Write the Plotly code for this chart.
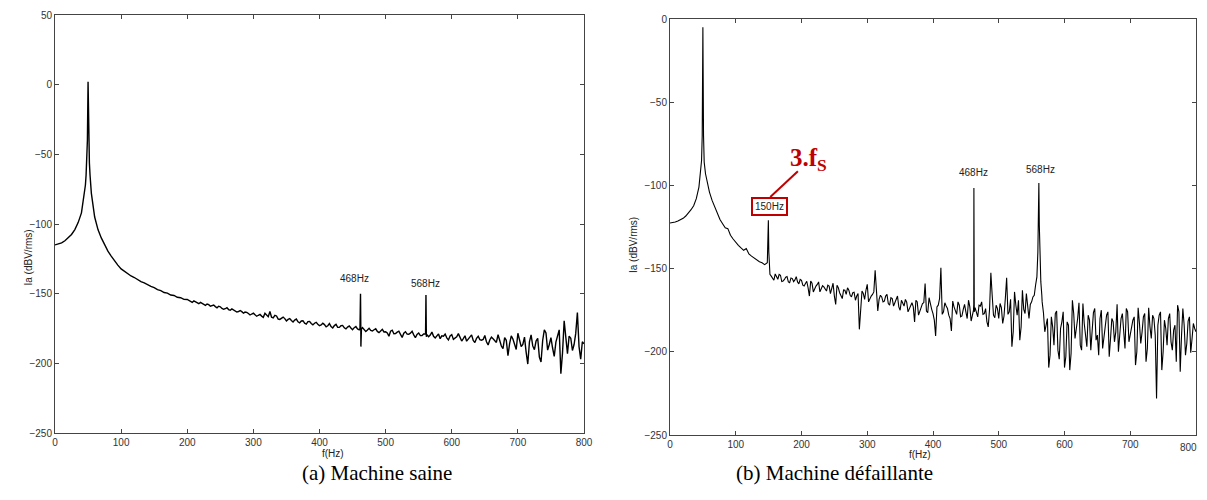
import numpy as np
import plotly.graph_objects as go

# page is 1207x500; the browser body adds an 8 px margin, so the figure is
# sized and positioned to compensate
PAGE_OFF = 8
W, H = 1199, 492

# ---------------- (a) Machine saine ----------------
FREQ_A_STEP = 5
VALUES_A = [
    -115.0, -114.5, -113.5, -112.0, -110.0, -107.5, -104.0, -99.0, -92.0, -77.0,   # 0..45
    2.0, -78.0, -95.0, -104.0, -110.0, -115.0, -119.5, -123.0, -126.5, -129.5,     # 50..95
    -132.2, -134.0, -135.6, -137.3, -138.4, -139.9, -141.3, -142.2, -143.6, -144.8,  # 100..145
    -145.6, -147.1, -147.8, -149.2, -149.6, -151.0, -151.3, -152.6, -152.9, -154.1,  # 150..195
    -154.2, -155.6, -155.2, -156.9, -156.3, -157.8, -157.4, -159.0, -158.2, -160.1,  # 200..245
    -159.4, -161.2, -160.0, -161.9, -161.5, -163.2, -162.1, -164.0, -163.4, -165.3,  # 250..295
    -164.0, -166.2, -164.9, -167.0, -165.5, -162.8, -167.4, -166.0, -168.5, -166.8,  # 300..345
    -169.6, -167.9, -170.3, -168.2, -171.0, -169.4, -171.8, -169.9, -172.4, -170.6,  # 350..395
    -173.0, -171.2, -173.8, -171.5, -174.6, -172.0, -174.2, -172.8, -175.3, -173.1,  # 400..445
    -175.9, -173.6, -176.0, -174.4, -177.2, -174.9, -176.8, -175.2, -178.0, -175.6,  # 450..495
    -177.4, -180.5, -176.2, -178.6, -176.9, -181.4, -177.3, -179.1, -177.0, -181.6,  # 500..545
    -178.2, -180.0, -178.5, -180.9, -177.6, -181.8, -178.9, -180.3, -179.0, -183.2,  # 550..595
    -179.4, -181.8, -178.7, -184.0, -180.2, -182.5, -179.6, -185.1, -180.6, -183.4,  # 600..645
    -180.0, -186.8, -181.2, -184.0, -179.5, -187.6, -181.5, -194.5, -180.3, -186.2,  # 650..695
    -178.4, -188.0, -181.2, -200.5, -179.6, -190.2, -182.0, -199.0, -176.0, -190.5,  # 700..745
    -181.5, -195.0, -180.2, -207.5, -169.5, -193.0, -182.0, -186.5, -163.5, -197.0,  # 750..795
    -186.0,                                                                           # 800
]
MID_A_START, MID_A_STEP = 202.5, 5
MID_A = [
    -155.0, -156.3, -155.9, -157.2, -157.0, -158.4, -157.9, -158.6, -159.3, -159.0,
    -160.6, -160.8, -161.4, -160.9, -162.4, -162.8, -162.9, -163.2, -164.2, -164.6,
    -165.2, -165.5, -166.1, -164.0, -166.5, -166.9, -165.5, -168.2, -167.8, -167.9,
    -168.5, -169.3, -169.0, -170.2, -169.6, -171.2, -170.1, -171.4, -171.2, -171.9,
    -172.5, -172.2, -173.0, -173.6, -172.9, -174.1, -173.0, -174.5, -174.0, -174.6,
    -174.4, -175.3, -176.2, -175.8, -176.1, -176.4, -175.9, -177.1, -176.8, -177.5,
    -178.2, -177.0, -178.8, -177.6, -179.2, -178.4, -179.0, -178.3, -179.6, -179.2,
    -180.1, -178.9, -179.4, -179.7, -180.6, -180.2, -182.3, -180.5, -181.7, -180.4,
    -182.8, -180.9, -181.6, -182.2, -184.1, -181.3, -183.5, -182.0, -183.0, -182.9,
    -184.5, -183.2, -182.4, -185.0, -183.8, -189.5, -183.5, -185.8, -182.6, -190.1,
    -183.0, -186.4, -192.0, -184.5, -187.5, -184.0, -195.5, -183.6, -178.2, -186.5,
    -189.0, -184.8, -176.0, -192.5, -183.5, -180.5, -190.8, -178.5, -188.0, -184.5,
]
EXTRA_A_F = [46, 47, 48, 49, 51, 52, 53, 54, 461.2, 462.0, 462.6, 463.4, 560.4, 561.0, 561.6]
EXTRA_A_V = [-72, -65, -56, -40, -40, -56, -65, -72, -175.0, -150.0, -188.0, -175.5, -179.0, -151.0, -181.0]

# ---------------- (b) Machine défaillante ----------------
FREQ_B_STEP = 4
VALUES_B = [
    -122.6, -122.4, -122.0, -121.4, -120.6, -119.8, -118.4, -116.8, -114.6, -112.2,  # 0..36
    -108.0, -101.0, -85.0, -86.0, -97.5, -104.0, -109.0, -113.0, -117.0, -120.5,     # 40..76
    -123.0, -125.5, -126.0, -130.0, -132.2, -134.3, -136.0, -137.6, -139.0, -138.0,  # 80..116
    -141.2, -142.5, -143.8, -144.6, -145.9, -146.5, -147.6, -146.5, -153.5, -155.8,  # 120..156
    -153.2, -156.4, -154.0, -157.5, -155.2, -158.0, -155.6, -157.8, -154.8, -159.2,  # 160..196
    -157.0, -160.5, -157.6, -166.5, -158.8, -162.0, -159.5, -164.0, -160.3, -162.5,  # 200..236
    -160.0, -165.0, -158.8, -171.5, -161.5, -166.0, -162.8, -165.5, -163.0, -167.0,  # 240..276
    -164.2, -166.5, -186.5, -163.5, -168.5, -159.5, -168.0, -165.5, -151.0, -175.5,  # 280..316
    -166.0, -170.0, -166.5, -171.0, -167.5, -172.5, -168.0, -173.0, -169.0, -172.5,  # 320..356
    -170.2, -174.0, -170.5, -182.0, -170.0, -176.0, -171.0, -159.0, -176.5, -171.5,  # 360..396
    -177.0, -190.5, -172.0, -149.5, -176.0, -172.5, -178.0, -187.5, -173.0, -177.5,  # 400..436
    -172.0, -178.5, -171.5, -180.0, -173.0, -178.0, -173.5, -179.0, -172.5, -177.5,  # 440..476
    -174.0, -185.0, -152.5, -178.0, -172.0, -180.0, -173.5, -178.5, -155.5, -176.0,  # 480..516
    -197.0, -164.0, -178.0, -193.0, -163.0, -177.0, -172.0, -171.5, -167.0, -160.0,  # 520..556
    -132.0, -158.0, -176.5, -184.0, -209.5, -179.0, -196.0, -175.5, -204.5, -182.0,  # 560..596
    -209.5, -182.0, -211.0, -169.0, -192.0, -180.0, -196.0, -171.0, -190.0, -178.0,  # 600..636
    -199.0, -176.5, -193.0, -202.0, -175.0, -190.5, -178.0, -203.0, -180.0, -194.0,  # 640..676
    -171.5, -190.0, -177.0, -198.0, -176.0, -189.5, -181.0, -208.0, -173.5, -195.0,  # 680..716
    -179.0, -206.0, -173.5, -192.0, -180.0, -228.0, -178.0, -211.0, -181.0, -196.0,  # 720..756
    -177.0, -199.0, -184.0, -172.0, -212.0, -174.0, -202.0, -181.5, -200.5, -183.0,  # 760..796
    -188.0,                                                                           # 800
]
MID_B_START, MID_B_STEP = 154, 4
MID_B = [
    -154.5, -157.0, -155.0, -153.5, -157.8, -156.5, -154.8, -158.5, -156.0, -156.8,  # 154..190
    -158.0, -156.5, -160.0, -159.0, -161.5, -157.5, -164.0, -160.5, -158.0, -162.5,  # 194..230
    -161.0, -163.5, -160.5, -162.0, -166.5, -160.0, -164.5, -168.0, -163.0, -161.5,  # 234..270
    -166.0, -164.5, -169.0, -165.0, -175.0, -165.0, -163.0, -170.0, -166.5, -164.0,  # 274..310
    -164.0, -168.5, -167.0, -169.5, -165.5, -172.0, -168.0, -170.5, -166.5, -175.0,  # 314..350
    -171.0, -168.5, -176.0, -171.5, -173.0, -169.0, -178.0, -174.0, -170.5, -175.5,  # 354..390
    -167.5, -174.5, -181.0, -173.0, -168.0, -177.5, -170.5, -174.0, -180.0, -169.5,  # 394..430
    -175.5, -170.0, -179.0, -174.5, -176.0, -169.0, -181.5, -171.5, -176.5, -172.0,  # 434..470
    -170.0, -177.0, -182.0, -174.5, -166.0, -179.5, -174.0, -171.0, -183.0, -168.0,  # 474..510
    -177.5, -168.5, -188.0, -172.0, -169.0, -185.0, -174.5, -165.0, -180.0, -170.0,  # 514..550
    -166.0, -155.0, -130.0, -170.0, -188.0, -180.0, -202.0, -185.0, -177.0, -199.0,  # 554..590
    -186.0, -176.0, -203.0, -184.0, -201.0, -177.0, -186.0, -170.5, -199.0, -183.0,  # 594..630
    -197.0, -181.0, -186.0, -174.0, -190.0, -180.0, -198.0, -184.0, -176.0, -192.0,  # 634..670
    -182.0, -188.0, -200.0, -180.0, -186.0, -174.0, -194.0, -183.0, -179.0, -200.0,  # 674..710
    -183.0, -188.0, -177.0, -198.0, -185.0, -178.0, -190.0, -184.0, -176.0, -200.0,  # 714..750
    -186.0, -180.0, -194.0, -187.0, -206.0, -176.0, -190.0, -184.0, -195.0, -179.0,  # 754..790
    -192.0, -186.0,                                                                   # 794..798
]
EXTRA_B_F = [49, 50, 51, 54, 149.0, 149.6, 150.3, 151.0,
             461.6, 462.2, 462.8, 559.5, 560.3, 561.0, 561.7, 562.5, 565.5]
EXTRA_B_V = [-70.0, -5.0, -70.0, -93.0, -135.0, -121.0, -140.0, -152.0,
             -175.0, -101.6, -176.0, -140.0, -122.0, -98.6, -124.0, -145.0, -166.0]

TICKS_X = [0, 100, 200, 300, 400, 500, 600, 700, 800]
TICKS_YA = [-250, -200, -150, -100, -50, 0, 50]
TICKS_YB = [-250, -200, -150, -100, -50, 0]


def merge(step, values, mstart, mstep, mids, ef, ev):
    f = list(np.arange(len(values)) * step)
    fm = list(mstart + np.arange(len(mids)) * mstep)
    pts = list(zip(f, values)) + list(zip(fm, mids)) + list(zip(ef, ev))
    pts.sort(key=lambda p: p[0])
    return [float(p[0]) for p in pts], [p[1] for p in pts]


fa, va = merge(FREQ_A_STEP, VALUES_A, MID_A_START, MID_A_STEP, MID_A, EXTRA_A_F, EXTRA_A_V)
fb, vb = merge(FREQ_B_STEP, VALUES_B, MID_B_START, MID_B_STEP, MID_B, EXTRA_B_F, EXTRA_B_V)


def px(x):  # page pixel x -> paper
    return (x - PAGE_OFF) / W


def py(y):  # page pixel y -> paper
    return 1 - (y - PAGE_OFF) / H


fig = go.Figure()
fig.add_trace(go.Scatter(x=fa, y=va, mode="lines", line=dict(color="black", width=1.4),
                         xaxis="x", yaxis="y", showlegend=False, hoverinfo="skip"))
fig.add_trace(go.Scatter(x=fb, y=vb, mode="lines", line=dict(color="black", width=1.1),
                         xaxis="x2", yaxis="y2", showlegend=False, hoverinfo="skip"))

tickfont = dict(family="Liberation Sans, Arial, sans-serif", size=10, color="#333")
axcommon = dict(showline=True, linecolor="#444", linewidth=1, mirror="ticks",
                ticks="inside", ticklen=4, tickcolor="#444", showgrid=False,
                zeroline=False, tickfont=tickfont, automargin=False)

# the last x label of panel (b) sits at the very page edge: it is drawn as a
# right-anchored label so it stays fully visible
TICKTEXT_XB = [str(v) if v != TICKS_X[-1] else "" for v in TICKS_X]

fig.update_layout(
    width=W, height=H,
    margin=dict(l=0, r=0, t=0, b=0),
    paper_bgcolor="white", plot_bgcolor="white",
    xaxis=dict(domain=[px(55), px(584)], range=[0, 800], tickvals=TICKS_X, anchor="y", **axcommon),
    yaxis=dict(domain=[py(433), py(15)], range=[-250, 50], tickvals=TICKS_YA, anchor="x", **axcommon),
    xaxis2=dict(domain=[px(670), px(1196)], range=[0, 800], tickvals=TICKS_X,
                ticktext=TICKTEXT_XB, anchor="y2", **axcommon),
    yaxis2=dict(domain=[py(435), py(19)], range=[-250, 0], tickvals=TICKS_YB, anchor="x2", **axcommon),
)

lab = dict(family="Liberation Sans, Arial, sans-serif", size=10, color="#222")
ann = []
ann.append(dict(x=TICKS_X[-1], y=-250, xref="x2", yref="y2", text=str(TICKS_X[-1]),
                showarrow=False, xanchor="right", yanchor="middle", xshift=3, yshift=-12,
                font=tickfont))
ann.append(dict(x=px(20), y=py(258), xref="paper", yref="paper", text="Ia (dBV/rms)",
                textangle=-90, showarrow=False, font=lab))
ann.append(dict(x=px(633), y=py(245), xref="paper", yref="paper", text="Ia (dBV/rms)",
                textangle=-90, showarrow=False, font=lab))
ann.append(dict(x=px(320), y=py(461), xref="paper", yref="paper", text="f(Hz)",
                showarrow=False, font=lab))
ann.append(dict(x=px(933), y=py(462), xref="paper", yref="paper", text="f(Hz)",
                showarrow=False, font=lab))
cap = dict(family="Liberation Serif, Times New Roman, serif", size=21, color="black")
ann.append(dict(x=px(300), y=py(487), xref="paper", yref="paper", text="(a) Machine saine",
                showarrow=False, font=cap))
ann.append(dict(x=px(935), y=py(487), xref="paper", yref="paper", text="(b) Machine défaillante",
                showarrow=False, font=cap))
ann.append(dict(x=453, y=-139, xref="x", yref="y", text="468Hz", showarrow=False, font=lab))
ann.append(dict(x=560, y=-142.5, xref="x", yref="y", text="568Hz", showarrow=False, font=lab))
ann.append(dict(x=461, y=-92.5, xref="x2", yref="y2", text="468Hz", showarrow=False, font=lab))
ann.append(dict(x=563, y=-90.5, xref="x2", yref="y2", text="568Hz", showarrow=False, font=lab))
ann.append(dict(x=150.6, y=-112.4, xref="x2", yref="y2", text="150Hz", showarrow=False, font=lab,
                bordercolor="#C00000", borderwidth=2, borderpad=2, bgcolor="white"))
ann.append(dict(x=211, y=-84.5, xref="x2", yref="y2", text="<b>3.f<sub>S</sub></b>",
                showarrow=False,
                font=dict(family="Liberation Serif, Times New Roman, serif", size=25, color="#C00000")))
fig.update_layout(annotations=ann)

fig.add_shape(type="line", x0=194.5, y0=-91.5, x1=152.5, y1=-107.0, xref="x2", yref="y2",
              line=dict(color="#C00000", width=2))

fig.write_html("out.html")
